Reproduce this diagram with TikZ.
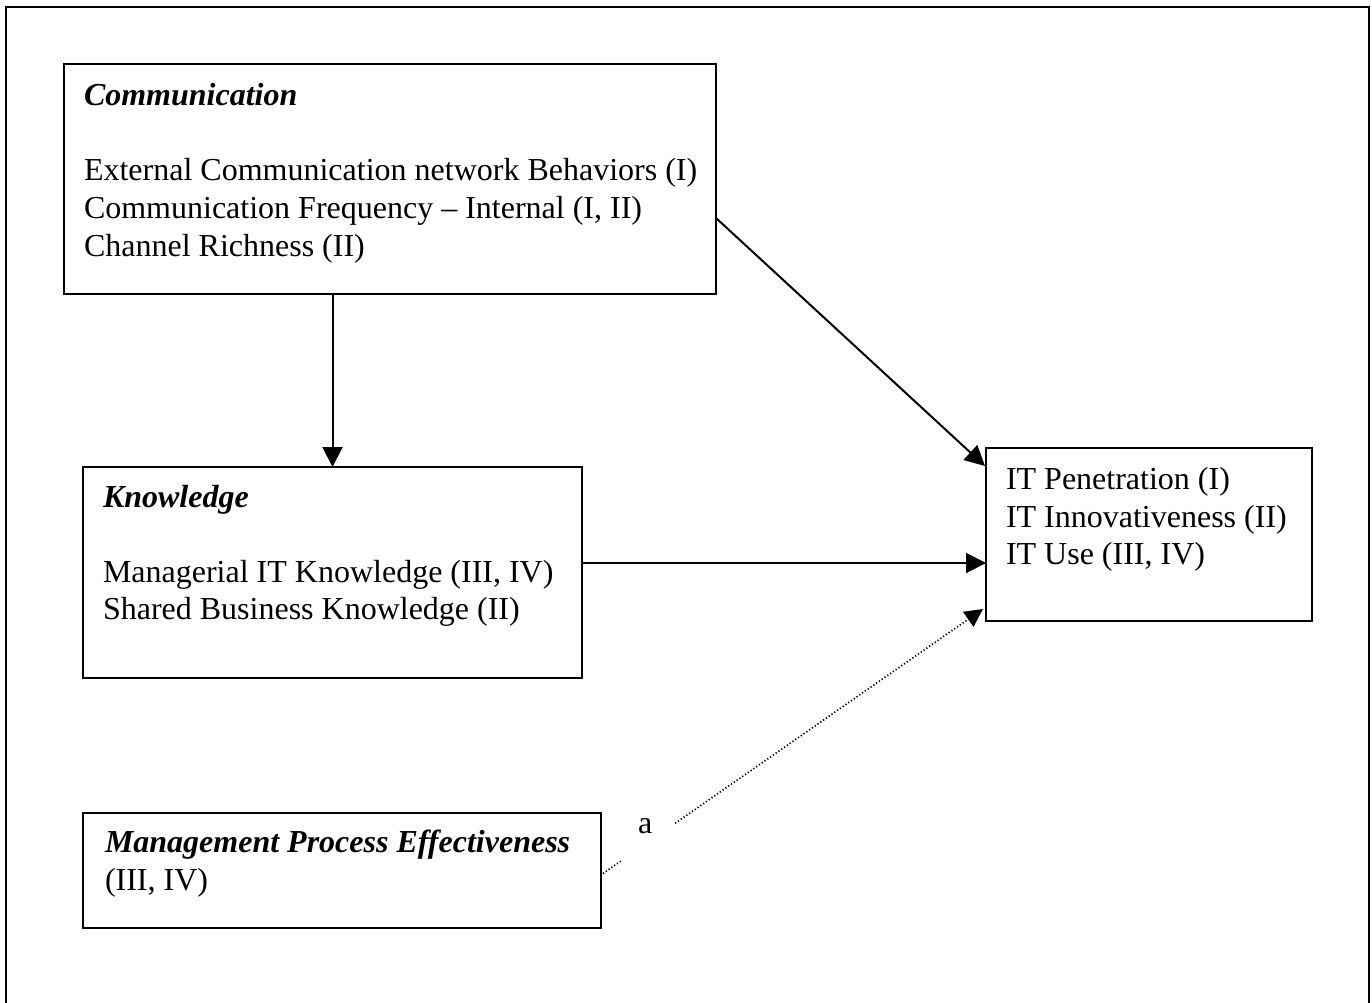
\documentclass[tikz,border=0pt]{standalone}
\usepackage{fontspec}
\setmainfont{Liberation Serif}
\usetikzlibrary{arrows.meta,calc}
\begin{document}
\begin{tikzpicture}[x=1pt,y=-1pt,
  box/.style={draw, line width=2pt, inner sep=0pt, outer sep=0pt, anchor=north west},
  txt/.style={inner sep=0pt, outer sep=0pt, anchor=base west, font=\fontsize{32}{38}\selectfont},
  ttl/.style={txt, font=\fontsize{32}{38}\selectfont\bfseries\itshape},
  arr/.style={line width=2pt, -{Triangle[length=20pt,width=20pt]}},
  dotline/.style={line width=1.7pt, dash pattern=on 1.2pt off 2.2pt},
]
\useasboundingbox (0,0) rectangle (1372,1002);
\draw[line width=2.4pt] (6,1004) -- (6,7) -- (1369,7) -- (1369,1004);

% boxes
\node[box, minimum width=652pt, minimum height=230pt] (comm) at (64,64) {};
\node[box, minimum width=499pt, minimum height=211pt] (know) at (83,467) {};
\node[box, minimum width=518pt, minimum height=115pt] (mpe) at (83,813) {};
\node[box, minimum width=326pt, minimum height=173pt] (it) at (986,448) {};

% texts
\node[ttl] (commt) at (84,105) {Communication};
\node[txt] (comm1) at (84,180) {External Communication network Behaviors (I)};
\node[txt] (comm2) at (84,218) {Communication Frequency -- Internal (I, II)};
\node[txt] (comm3) at (84,256) {Channel Richness (II)};

\node[ttl] (knowt) at (103,507) {Knowledge};
\node[txt] (know1) at (103,582) {Managerial IT Knowledge (III, IV)};
\node[txt] (know2) at (103,619) {Shared Business Knowledge (II)};

\node[ttl] (mpet) at (105,852) {Management Process Effectiveness};
\node[txt] (mpe1) at (105,890) {(III, IV)};

\node[txt] (it1) at (1006,489) {IT Penetration (I)};
\node[txt] (it2) at (1006,527) {IT Innovativeness (II)};
\node[txt] (it3) at (1006,564) {IT Use (III, IV)};

\node[txt] (lbla) at (638,833) {a};

% connectors
\draw[arr] (comm.south -| know.north) -- (know.north);
\draw[arr] ($(comm.north east)+(0,154)$) -- ($(it.north west)+(-1,18)$);
\draw[arr] ($(know.north east)+(0,96)$) -- ($(it.north west)+(0,115)$);

\coordinate (d0) at ($(mpe.east)+(2,3)$);
\coordinate (d1) at ($(it.south west)+(-3,-12)$);
\draw[dotline] (d0) -- ($(d0)!0.05!(d1)$);
\draw[dotline, -{Triangle[length=18pt,width=18pt,sep=0pt]}] ($(d0)!0.19!(d1)$) -- (d1);
\end{tikzpicture}
\end{document}
